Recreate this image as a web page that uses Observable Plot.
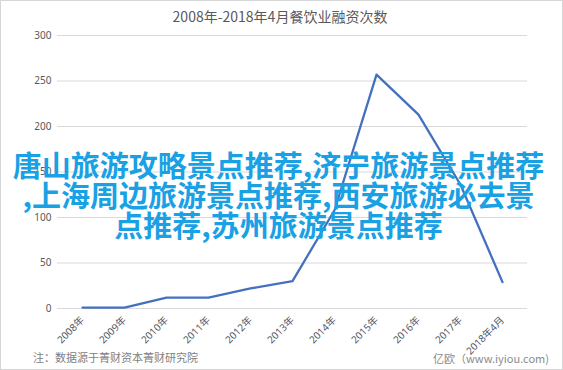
<!DOCTYPE html>
<html>
<head>
<meta charset="utf-8">
<script src="https://cdn.jsdelivr.net/npm/d3@7"></script>
<script src="https://cdn.jsdelivr.net/npm/@observablehq/plot@0.6"></script>
<style>
  body { margin: 0; background: #fff; }
  #wrap { position: relative; width: 563px; height: 370px; overflow: hidden; background: #fff;
          font-family: "Noto Sans CJK SC", "Noto Sans", sans-serif; }
  #border { position: absolute; left: 0; top: 0; width: 563px; height: 370px; box-sizing: border-box;
            border: 1px solid #d6d6d6; pointer-events: none; }
  #title { position: absolute; top: 6px; left: 0; width: 560px; text-align: center;
           font-size: 14px; color: #595959; line-height: 20px; }
  #chart { position: absolute; left: 0; top: 0; }
  #note { position: absolute; left: 33px; top: 349px; font-size: 11px; color: #7f7f7f; line-height: 16px; }
  #logo { position: absolute; left: 433px; top: 350px; font-size: 11px; color: #8a8a8a; line-height: 16px; }
  #overlay { position: absolute; left: 0; top: 149px; width: 557px; text-align: center; white-space: nowrap;
             font-size: 29px; line-height: 30px; font-weight: bold; color: #1aa1e4; }
</style>
</head>
<body>
<div id="wrap">
  <div id="chart"></div>
  <div id="title">2008年-2018年4月餐饮业融资次数</div>
  <div id="note">注：数据源于菁财资本菁财研究院</div>
  <div id="logo">亿欧（www.iyiou.com)</div>
  <div id="overlay">唐山旅游攻略景点推荐,济宁旅游景点推荐<br>,上海周边旅游景点推荐,西安旅游必去景<br>点推荐,苏州旅游景点推荐</div>
  <div id="border"></div>
</div>
<script>
const years = ["2008年","2009年","2010年","2011年","2012年","2013年","2014年","2015年","2016年","2017年","2018年4月"];
const counts = [1, 1, 12, 12, 22, 30, 108, 257, 213, 136, 29];
const yTicks = [0, 50, 100, 150, 200, 250, 300];

const data = years.map((y, i) => ({year: y, count: counts[i]}));

const chart = Plot.plot({
  width: 563,
  height: 370,
  marginTop: 35,
  marginBottom: 62,
  marginLeft: 57,
  marginRight: 36,
  style: {fontFamily: "'Noto Sans', 'Noto Sans CJK SC', sans-serif", fontSize: "10px", color: "#595959", background: "transparent"},
  x: {type: "point", domain: years, padding: 0.5},
  y: {domain: [0, 300]},
  marks: [
    Plot.gridY(yTicks, {stroke: "#d9d9d9", strokeOpacity: 1}),
    Plot.axisY(yTicks, {tickSize: 0, tickPadding: 6, label: null, fill: "#595959"}),
    Plot.ruleY([0], {stroke: "#d9d9d9"}),
    Plot.axisX({tickRotate: -45, tickSize: 0, tickPadding: 10, label: null, fill: "#595959"}),
    Plot.line(data, {x: "year", y: "count", stroke: "#4470c0", strokeWidth: 2.3})
  ]
});
document.getElementById("chart").appendChild(chart);
</script>
</body>
</html>
